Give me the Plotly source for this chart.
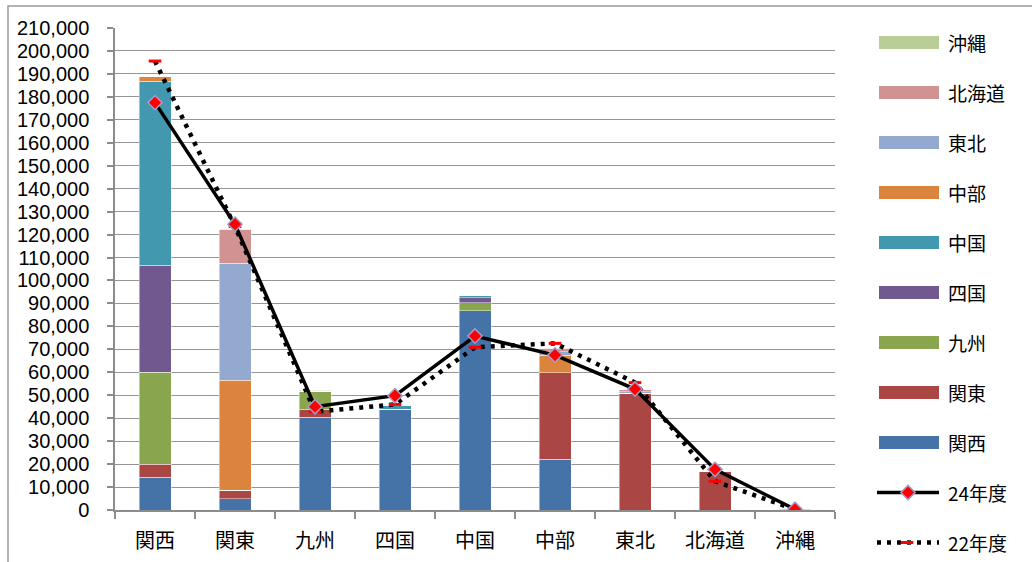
import plotly.graph_objects as go

# Regions on the category axis
regions = ["関西", "関東", "九州", "四国", "中国", "中部", "東北", "北海道", "沖縄"]

# Stacked components (one list per origin region), bottom to top
kansai   = [14200,  4800, 40400, 44000, 86800, 22200,     0,     0,   0]
kanto    = [ 5800,  3900,  3600,     0,     0, 37600, 50800, 16700,   0]
kyushu   = [40000,     0,  7800,     0,  3500,     0,     0,     0,   0]
shikoku  = [46700,     0,     0,     0,  2200,     0,     0,     0,   0]
chugoku  = [80100,     0,     0,  1700,  1000,     0,     0,     0,   0]
chubu    = [ 2200, 47900,     0,     0,     0,  7700,     0,     0,   0]
tohoku   = [    0, 51000,     0,     0,     0,  1500,   800,     0,   0]
hokkaido = [    0, 14800,   300,     0,     0,  1400,   700,     0,   0]
okinawa  = [    0,     0,     0,     0,     0,     0,     0,     0, 300]

# Year totals drawn as lines
fy24 = [177500, 124500, 45000, 49800, 75800, 67500, 52700, 17700, 300]
fy22 = [195600, 123500, 42800, 46000, 70900, 72600, 55500, 12500, 200]

y_ticks = list(range(0, 210001, 10000))

stack = [
    ("関西", kansai, "#4572A7"),
    ("関東", kanto, "#AA4643"),
    ("九州", kyushu, "#89A54E"),
    ("四国", shikoku, "#71588F"),
    ("中国", chugoku, "#4198AF"),
    ("中部", chubu, "#DB843D"),
    ("東北", tohoku, "#93A9CF"),
    ("北海道", hokkaido, "#D19392"),
    ("沖縄", okinawa, "#B9CD96"),
]

W, H = 1032, 562
PL, PR, PT, PB = 115, 835, 28, 510   # plot area in pixels

CJK = "Noto Sans CJK JP"
DOT = "4px,6px"

fig = go.Figure()

for name, vals, color in stack:
    fig.add_trace(go.Bar(
        x=regions, y=vals, name=name, width=0.4,
        marker=dict(color=color, line=dict(color="rgba(255,255,255,0.55)", width=0.8)),
        showlegend=False,
    ))

fig.add_trace(go.Scatter(
    x=regions, y=fy22, mode="lines+markers", name="22年度",
    line=dict(color="black", width=4.5, dash=DOT),
    marker=dict(symbol="line-ew", size=9, line=dict(color="red", width=3)),
    showlegend=False,
))
fig.add_trace(go.Scatter(
    x=regions, y=fy24, mode="lines+markers", name="24年度",
    line=dict(color="black", width=3.5),
    marker=dict(symbol="diamond", size=11, color="red",
                line=dict(color="#a59bc9", width=1.5)),
    showlegend=False,
))

# Legend drawn on a pixel-space overlay axis
legend_x0, legend_x1, text_x = 879, 939, 946
centers = {name: 42.5 + 50 * i for i, (name, _, _) in enumerate(reversed(stack))}
for name, _, color in stack:
    cy = centers[name]
    fig.add_shape(type="rect", xref="x2", yref="y2",
                  x0=legend_x0, x1=legend_x1, y0=cy - 6.5, y1=cy + 6.5,
                  fillcolor=color, line=dict(width=0))
    fig.add_annotation(x=text_x / W, y=1 - cy / H, xref="paper", yref="paper",
                       text=name, showarrow=False, xanchor="left", yanchor="middle",
                       font=dict(family=CJK, size=19, color="black"))

y24, y22 = 492.5, 542.5
fig.add_trace(go.Scatter(x=[877, 939], y=[y24, y24], mode="lines",
                         line=dict(color="black", width=3.5),
                         xaxis="x2", yaxis="y2", showlegend=False, hoverinfo="skip"))
fig.add_trace(go.Scatter(x=[908], y=[y24], mode="markers",
                         marker=dict(symbol="diamond", size=11, color="red",
                                     line=dict(color="#a59bc9", width=1.5)),
                         xaxis="x2", yaxis="y2", showlegend=False, hoverinfo="skip"))
fig.add_trace(go.Scatter(x=[877, 939], y=[y22, y22], mode="lines",
                         line=dict(color="black", width=4.5, dash=DOT),
                         xaxis="x2", yaxis="y2", showlegend=False, hoverinfo="skip"))
fig.add_trace(go.Scatter(x=[907], y=[y22], mode="markers",
                         marker=dict(symbol="line-ew", size=9, line=dict(color="red", width=3)),
                         xaxis="x2", yaxis="y2", showlegend=False, hoverinfo="skip"))
for label, cy in (("24年度", y24), ("22年度", y22)):
    fig.add_annotation(x=text_x / W, y=1 - cy / H, xref="paper", yref="paper",
                       text=label, showarrow=False, xanchor="left", yanchor="middle",
                       font=dict(family=CJK, size=19, color="black"))

# Outer frame
fig.add_shape(type="rect", xref="paper", yref="paper",
              x0=8 / W, x1=1.02, y0=-0.02, y1=1 - 6 / H,
              line=dict(color="#9a9a9a", width=1.5), fillcolor="rgba(0,0,0,0)")

fig.update_layout(
    width=W, height=H,
    margin=dict(l=0, r=0, t=0, b=0),
    paper_bgcolor="white", plot_bgcolor="rgba(0,0,0,0)",
    barmode="stack", bargap=0.6,
    xaxis=dict(
        domain=[PL / W, PR / W], range=[-0.5, 8.5], type="category",
        showline=True, linecolor="#8c8c8c", linewidth=1.5,
        ticks="outside", tickson="boundaries", ticklen=7, tickcolor="#8c8c8c", tickwidth=1.5,
        showgrid=False, automargin=False, ticklabelstandoff=12,
        tickfont=dict(family=CJK, size=20, color="black"),
    ),
    yaxis=dict(
        domain=[1 - PB / H, 1 - PT / H], range=[0, 210000],
        tickvals=y_ticks, tickformat=",",
        showline=True, linecolor="#8c8c8c", linewidth=1.5,
        ticks="outside", ticklen=6, tickcolor="#8c8c8c", tickwidth=1.5,
        showgrid=True, gridcolor="#959595", gridwidth=1.3,
        zeroline=False, automargin=False, ticklabelstandoff=14,
        tickfont=dict(family="Liberation Sans", size=20, color="black"),
    ),
    xaxis2=dict(domain=[0, 1], range=[0, W], visible=False, anchor="y2", fixedrange=True),
    yaxis2=dict(domain=[0, 1], range=[H, 0], visible=False, anchor="x2", fixedrange=True),
)

fig.write_html("out.html")
